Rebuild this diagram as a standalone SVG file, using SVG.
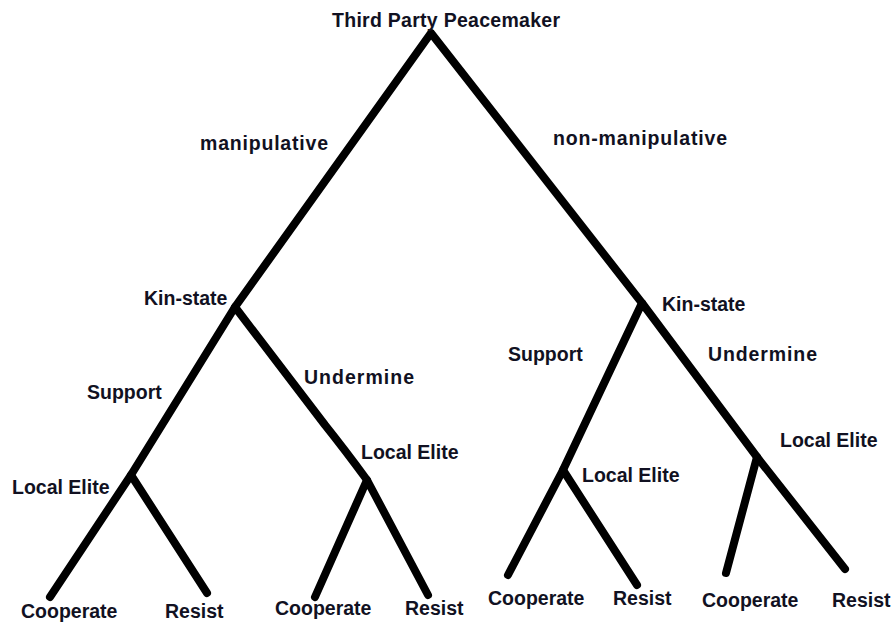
<svg xmlns="http://www.w3.org/2000/svg" width="891" height="624" viewBox="0 0 891 624">
<style>
.e{fill:none;stroke:#000;stroke-width:8;stroke-linecap:round;stroke-linejoin:round}
text{font-family:"Liberation Sans",Arial,sans-serif;font-weight:bold;font-size:19.5px;fill:#111122}
</style>
<rect width="891" height="624" fill="#fff"/>
<g id="connectors">
<path class="e" d="M235,307 L431,33 L642,303"/>
<path class="e" d="M131,475 L235,307 L325,425 Q345,450 367,480"/>
<path class="e" d="M50,597 L131,475 L207,593"/>
<path class="e" d="M315,597 L367,480 L428,595"/>
<path class="e" d="M563,470 L642,303 L757,457 L845,569"/>
<path class="e" d="M508,575 L563,470 L637,585"/>
<path class="e" d="M726,573 L757,457"/>
</g>
<g id="root"><text x="332" y="27" textLength="228">Third Party Peacemaker</text></g>
<g id="edge-manipulative"><text x="200" y="150" textLength="128">manipulative</text></g>
<g id="edge-non-manipulative"><text x="553" y="145" textLength="174">non-manipulative</text></g>
<g id="kin-left"><text x="144" y="305">Kin-state</text></g>
<g id="kin-right"><text x="662" y="311">Kin-state</text></g>
<g id="edge-support-left"><text x="87" y="399">Support</text></g>
<g id="edge-undermine-left"><text x="304" y="384" textLength="110">Undermine</text></g>
<g id="edge-support-right"><text x="508" y="361">Support</text></g>
<g id="edge-undermine-right"><text x="708" y="361" textLength="109">Undermine</text></g>
<g id="le1"><text x="12" y="494">Local Elite</text></g>
<g id="le2"><text x="361" y="459">Local Elite</text></g>
<g id="le3"><text x="582" y="482">Local Elite</text></g>
<g id="le4"><text x="780" y="447">Local Elite</text></g>
<g id="leaves">
<text x="21" y="618">Cooperate</text>
<text x="165" y="618">Resist</text>
<text x="275" y="615">Cooperate</text>
<text x="405" y="615">Resist</text>
<text x="488" y="605">Cooperate</text>
<text x="613" y="605">Resist</text>
<text x="702" y="607">Cooperate</text>
<text x="832" y="607">Resist</text>
</g>
</svg>
